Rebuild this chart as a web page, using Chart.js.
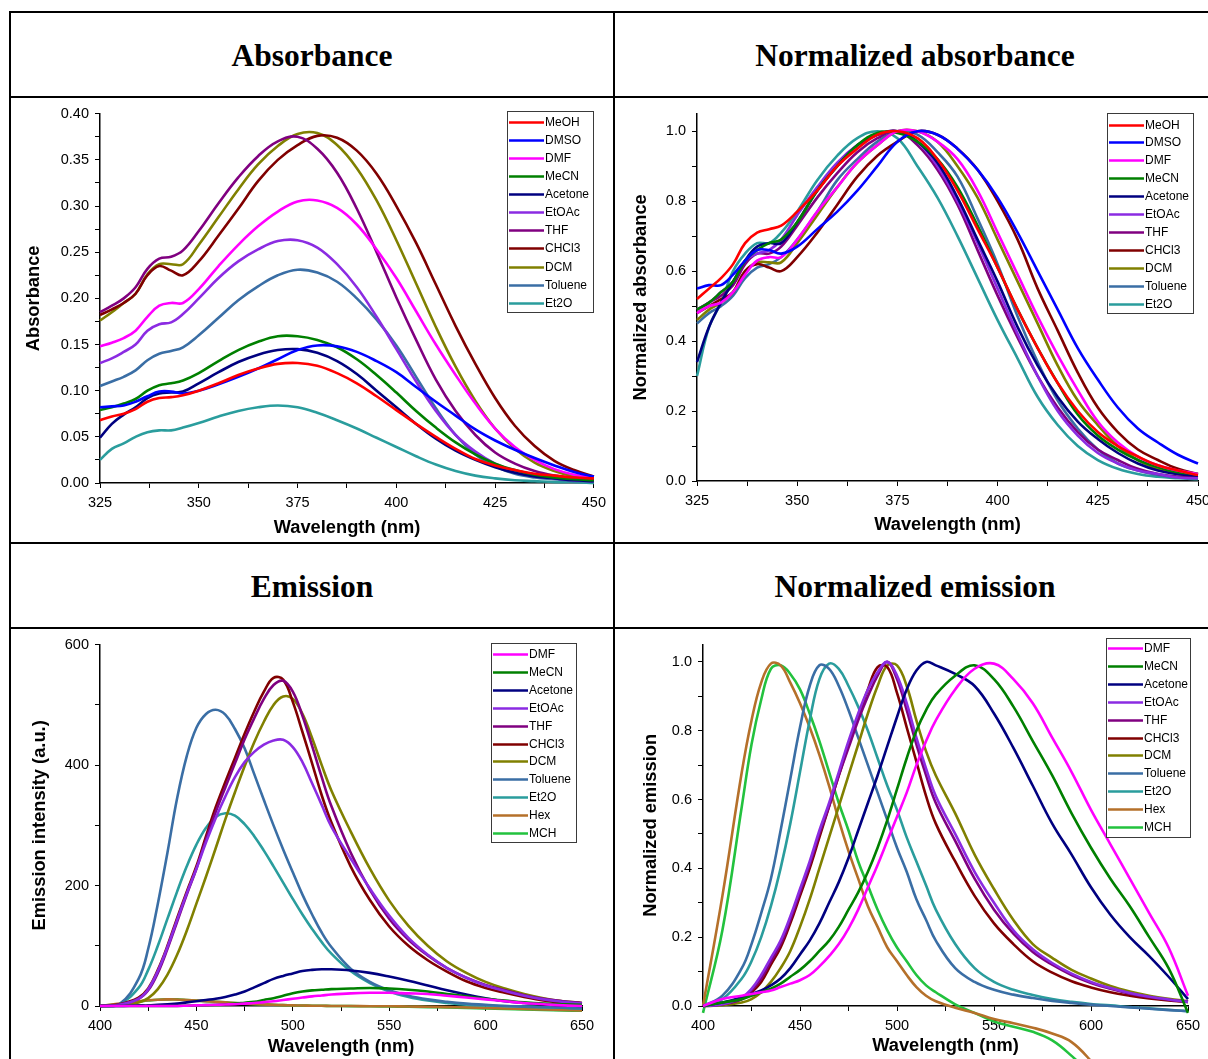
<!DOCTYPE html>
<html>
<head>
<meta charset="utf-8">
<script src="https://cdn.jsdelivr.net/npm/chart.js@4.4.0/dist/chart.umd.min.js"></script>
<style>
  body { margin: 0; width: 1208px; height: 1059px; overflow: hidden; background: #fff; position: relative; }
  .ln { position: absolute; background: #000; }
  .cell { position: absolute; display: flex; align-items: center; justify-content: center;
          font-family: "Liberation Serif", "Times New Roman", serif; font-weight: bold; font-size: 31.5px; color: #000; }
  canvas { position: absolute; display: block; }
</style>
</head>
<body>
<!-- cadre du tableau -->
<div class="ln" style="left:9px;top:11px;width:1199px;height:2px"></div>
<div class="ln" style="left:9px;top:96px;width:1199px;height:2px"></div>
<div class="ln" style="left:9px;top:542px;width:1199px;height:2px"></div>
<div class="ln" style="left:9px;top:627px;width:1199px;height:2px"></div>
<div class="ln" style="left:9px;top:11px;width:2px;height:1048px"></div>
<div class="ln" style="left:613px;top:11px;width:2px;height:1048px"></div>

<div class="cell" style="left:11px;top:14px;width:602px;height:83px">Absorbance</div>
<div class="cell" style="left:615px;top:14px;width:600px;height:83px">Normalized absorbance</div>
<div class="cell" style="left:11px;top:545px;width:602px;height:83px">Emission</div>
<div class="cell" style="left:615px;top:545px;width:600px;height:83px">Normalized emission</div>

<canvas id="cAbs" width="600" height="443" style="left:12px;top:99px"></canvas>
<canvas id="cNAbs" width="640" height="443" style="left:616px;top:99px"></canvas>
<canvas id="cEm" width="600" height="429" style="left:12px;top:630px"></canvas>
<canvas id="cNEm" width="592" height="429" style="left:616px;top:630px"></canvas>

<script>
// Données
const absSolvents = ['MeOH', 'DMSO', 'DMF', 'MeCN', 'Acetone', 'EtOAc', 'THF', 'CHCl3', 'DCM', 'Toluene', 'Et2O'];
const emSolvents = ['DMF', 'MeCN', 'Acetone', 'EtOAc', 'THF', 'CHCl3', 'DCM', 'Toluene', 'Et2O', 'Hex', 'MCH'];

const absWl = [325, 328, 331, 334, 337, 340, 343, 346, 350, 355, 360, 365, 370, 375, 380, 385, 390, 395, 400, 405, 410, 415, 420, 425, 430, 435, 440, 445, 450];
const emWl = [400, 410, 420, 425, 430, 435, 440, 445, 450, 455, 460, 465, 470, 475, 480, 485, 490, 495, 500, 505, 510, 515, 520, 530, 540, 550, 560, 570, 580, 590, 600, 610, 620, 630, 640, 650];

// Absorbance
const absMeOH = [.068, .072, .075, .080, .088, .092, .093, .095, .100, .108, .117, .124, .129, .130, .127, .119, .108, .094, .079, .064, .050, .037, .026, .019, .014, .010, .008, .006, .005];
const absDMSO = [.082, .083, .084, .088, .094, .099, .099, .097, .100, .107, .115, .124, .134, .144, .149, .148, .142, .132, .120, .104, .088, .073, .058, .046, .036, .027, .019, .012, .007];
const absDMF = [.148, .152, .157, .165, .180, .192, .195, .195, .210, .235, .258, .278, .294, .305, .306, .298, .280, .253, .222, .186, .150, .117, .086, .059, .039, .025, .015, .009, .006];
const absMeCN = [.079, .082, .086, .091, .100, .106, .108, .111, .119, .132, .144, .153, .159, .159, .155, .147, .134, .117, .098, .078, .060, .044, .031, .021, .014, .009, .006, .004, .003];
const absAcetone = [.049, .064, .074, .082, .092, .097, .098, .099, .108, .120, .131, .139, .144, .145, .141, .132, .118, .100, .082, .064, .048, .035, .025, .017, .011, .007, .005, .003, .002];
const absEtOAc = [.130, .135, .142, .150, .165, .172, .174, .183, .200, .222, .240, .253, .262, .263, .255, .237, .212, .180, .145, .110, .078, .052, .034, .021, .013, .008, .005, .003, .002];
const absTHF = [.185, .192, .200, .212, .232, .243, .245, .252, .273, .303, .331, .354, .370, .375, .362, .336, .297, .250, .201, .155, .112, .078, .052, .033, .021, .013, .008, .005, .004];
const absCHCl3 = [.182, .188, .195, .205, .225, .235, .230, .225, .240, .268, .297, .327, .350, .366, .376, .374, .360, .335, .300, .260, .215, .170, .129, .092, .062, .040, .024, .014, .007];
const absDCM = [.176, .185, .195, .205, .226, .237, .237, .237, .258, .288, .318, .345, .365, .378, .379, .366, .341, .306, .263, .216, .169, .126, .089, .059, .037, .022, .013, .007, .004];
const absToluene = [.105, .110, .115, .122, .133, .140, .143, .147, .160, .179, .198, .213, .225, .231, .228, .218, .200, .177, .149, .115, .081, .052, .031, .018, .010, .006, .004, .002, .002];
const absEt2O = [.025, .037, .043, .050, .055, .057, .057, .060, .065, .072, .078, .082, .084, .082, .076, .068, .059, .049, .039, .029, .020, .013, .008, .005, .003, .002, .001, .001, .000];

// Absorbance normalisée
const nabsMeOH = [.52, .55, .58, .62, .68, .71, .72, .73, .77, .83, .90, .95, .99, 1.0, .98, .92, .83, .72, .61, .49, .38, .28, .20, .14, .10, .07, .045, .03, .017];
const nabsDMSO = [.55, .56, .56, .59, .63, .66, .66, .65, .67, .72, .77, .83, .90, .97, 1.0, .99, .95, .89, .81, .71, .60, .49, .38, .29, .21, .15, .11, .075, .05];
const nabsDMF = [.48, .50, .51, .54, .59, .63, .64, .64, .69, .77, .84, .91, .96, 1.0, 1.0, .97, .92, .83, .71, .59, .47, .36, .26, .17, .11, .07, .045, .03, .02];
const nabsMeCN = [.49, .51, .54, .57, .63, .66, .68, .69, .74, .83, .90, .96, .995, .995, .97, .92, .84, .73, .61, .49, .38, .28, .19, .13, .09, .06, .04, .025, .02];
const nabsAcetone = [.34, .44, .51, .57, .63, .67, .68, .68, .74, .83, .90, .96, .99, 1.0, .97, .91, .81, .69, .57, .44, .33, .24, .17, .12, .08, .05, .03, .02, .015];
const nabsEtOAc = [.49, .51, .54, .57, .63, .65, .66, .69, .76, .84, .91, .96, .99, 1.0, .97, .90, .80, .68, .55, .42, .30, .20, .13, .08, .05, .03, .02, .01, .008];
const nabsTHF = [.49, .51, .53, .56, .62, .65, .65, .67, .73, .81, .88, .94, .98, 1.0, .96, .89, .79, .66, .53, .41, .30, .21, .14, .09, .06, .035, .02, .013, .01];
const nabsCHCl3 = [.48, .50, .52, .54, .60, .62, .61, .60, .64, .71, .79, .87, .93, .97, 1.0, .99, .95, .89, .80, .69, .55, .43, .31, .21, .14, .09, .06, .035, .02];
const nabsDCM = [.46, .49, .51, .54, .60, .625, .625, .625, .68, .76, .84, .91, .96, 1.0, 1.0, .97, .90, .81, .69, .57, .45, .33, .23, .16, .10, .06, .035, .02, .01];
const nabsToluene = [.45, .48, .50, .53, .58, .61, .62, .64, .69, .77, .86, .92, .97, 1.0, .99, .94, .87, .75, .62, .47, .34, .23, .15, .09, .05, .03, .017, .01, .008];
const nabsEt2O = [.30, .44, .51, .60, .65, .68, .68, .71, .77, .86, .93, .98, 1.0, .98, .90, .81, .70, .58, .46, .35, .24, .16, .10, .06, .035, .02, .012, .008, .005];

// Émission (u.a.)
const emDMF = [0, 0, 0, 0, 0, 0, 0, .5, 1, 1.5, 2, 2.5, 3, 4, 5, 6.5, 8, 10, 12, 14, 16, 17.5, 19, 21, 22, 22, 21, 20, 17, 14, 11, 8, 5, 3, 1, 0];
const emMeCN = [0, 0, 0, 0, 0, 0, 0, .5, 1, 1.5, 2, 3, 4, 5.5, 7, 10, 13, 17, 21, 24, 26, 27, 28, 29, 30, 29, 27, 24, 20, 16, 12, 9, 6, 4, 3, 2];
const emAcetone = [0, 0, 1, 1, 2, 3, 4, 6, 8, 10, 12, 15, 19, 24, 31, 38, 45, 50, 54, 58, 60, 61, 61, 59, 55, 49, 42, 34, 26, 19, 13, 8, 5, 3, 1, 0];
const emEtOAc = [0, 2, 12, 28, 58, 98, 143, 187, 228, 272, 312, 348, 380, 405, 422, 434, 441, 442, 430, 405, 370, 334, 298, 245, 195, 150, 113, 85, 63, 47, 34, 25, 17, 11, 7, 4];
const emTHF = [0, 2, 12, 26, 55, 95, 140, 185, 228, 277, 322, 363, 403, 443, 478, 510, 533, 540, 522, 482, 432, 380, 332, 255, 193, 145, 110, 84, 63, 47, 35, 26, 18, 12, 8, 5];
const emCHCl3 = [0, 3, 14, 29, 60, 100, 146, 190, 232, 282, 330, 372, 412, 452, 489, 522, 545, 542, 505, 455, 403, 350, 305, 232, 176, 132, 100, 76, 57, 41, 30, 22, 15, 9, 5, 2];
const emDCM = [0, 1, 6, 13, 28, 52, 85, 125, 170, 215, 262, 310, 355, 398, 438, 472, 500, 514, 510, 485, 445, 400, 358, 290, 228, 175, 133, 100, 74, 55, 40, 29, 20, 13, 8, 5];
const emToluene = [0, 3, 45, 95, 170, 255, 345, 415, 462, 485, 492, 484, 460, 428, 385, 342, 300, 260, 222, 185, 152, 122, 98, 62, 40, 26, 17, 11, 7, 4, 2, 0, -1, -2, -3, -4];
const emEt2O = [0, 3, 30, 60, 100, 145, 190, 232, 268, 296, 314, 320, 316, 302, 282, 258, 232, 205, 178, 152, 128, 106, 87, 58, 38, 24, 15, 9, 5, 2, 1, 0, -1, -2, -3, -4];
const emHex = [0, 4, 8, 9.5, 10.5, 11, 10.8, 10, 9, 8, 7, 6, 5, 4, 3.2, 2.5, 2, 1.5, 1.1, .8, .5, .3, .1, -.1, -.3, -.5, -.8, -1.2, -1.8, -2.5, -3.3, -4.2, -5, -5.8, -6.5, -7.2];
const emMCH = [0, 3, 7, 9, 10.5, 11, 11, 10, 9, 8, 7, 6, 5, 4, 3, 2.5, 2, 1.5, 1, .7, .5, .3, .1, -.2, -.5, -.8, -1.2, -1.8, -2.5, -3.3, -4, -4.8, -5.6, -6.4, -7.2, -8];

// Émission normalisée
const nemDMF = [0, .02, .03, .035, .04, .045, .055, .065, .075, .09, .115, .145, .18, .225, .28, .345, .41, .48, .55, .62, .70, .77, .83, .92, .98, .995, .95, .88, .78, .68, .57, .47, .37, .27, .17, .03];
const nemMeCN = [0, .01, .02, .03, .04, .05, .065, .085, .105, .13, .16, .19, .23, .28, .33, .39, .46, .54, .63, .72, .80, .86, .905, .96, .99, .95, .87, .77, .67, .56, .46, .37, .29, .20, .11, -.02];
const nemAcetone = [0, .01, .025, .035, .045, .06, .08, .11, .15, .19, .24, .30, .36, .43, .51, .59, .67, .755, .84, .92, .975, 1.0, .99, .965, .93, .85, .75, .64, .53, .44, .345, .265, .20, .145, .085, .02];
const nemEtOAc = [0, .005, .025, .05, .09, .14, .19, .26, .34, .42, .51, .59, .68, .77, .85, .92, .97, 1.0, .96, .88, .78, .69, .61, .50, .39, .30, .22, .165, .125, .094, .07, .052, .038, .027, .019, .012];
const nemTHF = [0, .005, .02, .045, .08, .13, .18, .25, .33, .41, .50, .58, .67, .75, .83, .90, .96, 1.0, .95, .86, .76, .67, .59, .48, .37, .28, .21, .157, .12, .09, .067, .05, .036, .026, .018, .012];
const nemCHCl3 = [0, .005, .02, .04, .07, .12, .17, .24, .32, .40, .49, .58, .67, .76, .84, .92, .985, .985, .91, .81, .71, .61, .53, .42, .32, .24, .18, .13, .097, .072, .054, .04, .03, .022, .016, .012];
const nemDCM = [0, .002, .01, .02, .04, .07, .11, .16, .23, .31, .40, .49, .58, .67, .76, .85, .93, .99, .99, .93, .83, .74, .67, .56, .44, .34, .25, .18, .14, .105, .08, .058, .042, .03, .021, .014];
const nemToluene = [0, .03, .11, .18, .27, .37, .51, .66, .81, .93, .99, .98, .93, .86, .78, .70, .62, .54, .46, .39, .31, .25, .19, .11, .07, .047, .033, .023, .015, .009, .004, 0, -.004, -.008, -.012, -.015];
const nemEt2O = [0, .02, .08, .13, .20, .29, .40, .53, .68, .83, .95, .995, .98, .93, .87, .80, .72, .64, .57, .49, .42, .35, .28, .18, .11, .07, .047, .032, .02, .012, .006, .002, -.003, -.007, -.011, -.015];
const nemHex = [0, .32, .68, .83, .94, .995, .99, .94, .88, .81, .73, .64, .54, .45, .37, .29, .23, .17, .13, .09, .055, .03, .014, -.005, -.02, -.038, -.05, -.063, -.08, -.105, -.16, -.23, -.31, -.40, -.49, -.58];
const nemMCH = [-.02, .22, .58, .76, .89, .98, .99, .965, .92, .85, .77, .68, .59, .51, .42, .35, .28, .22, .17, .13, .09, .06, .04, .005, -.02, -.045, -.06, -.075, -.10, -.145, -.20, -.27, -.35, -.44, -.53, -.62];

const colors = {
    MeOH: '#ff0000', DMSO: '#0000ff', DMF: '#ff00ff', MeCN: '#008000', Acetone: '#000080',
    EtOAc: '#8b2be2', THF: '#800080', CHCl3: '#800000', DCM: '#808000', Toluene: '#3a6ea5',
    Et2O: '#2a9d9d', Hex: '#b5702a', MCH: '#22c23e'
};

const FONT = '"Liberation Sans", Arial, sans-serif';
Chart.defaults.font.family = FONT;
Chart.defaults.color = '#000';

// Légende encadrée dessinée dans la zone du graphique
const boxLegend = {
    id: 'boxLegend',
    afterDatasetsDraw(chart, args, opts) {
        const ctx = chart.ctx;
        ctx.save();
        ctx.fillStyle = '#fff';
        ctx.fillRect(opts.x, opts.y, opts.w, opts.h);
        ctx.strokeStyle = '#3a3a3a';
        ctx.lineWidth = 1;
        ctx.strokeRect(opts.x + 0.5, opts.y + 0.5, opts.w, opts.h);
        ctx.font = '12px ' + FONT;
        ctx.textBaseline = 'middle';
        chart.data.datasets.forEach((ds, i) => {
            const y = Math.round(opts.y + opts.first + i * opts.row) + 0.5;
            ctx.strokeStyle = ds.borderColor;
            ctx.lineWidth = 2.5;
            ctx.beginPath();
            ctx.moveTo(opts.x + 2, y);
            ctx.lineTo(opts.x + 37, y);
            ctx.stroke();
            ctx.fillStyle = '#000';
            ctx.fillText(ds.label, opts.x + 38, y + 0.5);
        });
        ctx.restore();
    }
};

function buildDatasets(names, xs, series) {
    return names.map((name, i) => ({
        label: name,
        data: xs.map((x, j) => ({ x: x, y: series[i][j] })),
        borderColor: colors[name],
        borderWidth: 2.6,
        pointRadius: 0,
        tension: 0.4,
        fill: false,
        clip: false
    }));
}

function makeChart(id, p) {
    const stepOk = (v, s) => Math.abs(v / s - Math.round(v / s)) < 1e-6;
    new Chart(document.getElementById(id), {
        type: 'line',
        data: { datasets: p.datasets },
        options: {
            responsive: false,
            animation: false,
            layout: { padding: p.padding },
            elements: { line: { capBezierPoints: false } },
            plugins: {
                legend: { display: false },
                tooltip: { enabled: false },
                boxLegend: p.legend
            },
            scales: {
                x: {
                    type: 'linear',
                    min: p.xMin, max: p.xMax,
                    afterFit: s => { s.height = p.xH; },
                    border: { display: true, color: '#000', width: 1.5 },
                    grid: { drawOnChartArea: false, drawTicks: true, tickLength: 5, color: '#000', tickWidth: 1 },
                    ticks: {
                        stepSize: p.xMinor, autoSkip: false, maxRotation: 0, padding: 6,
                        font: { size: 14.5 },
                        callback: v => stepOk(v, p.xMajor) ? String(Math.round(v)) : ''
                    },
                    title: { display: true, text: 'Wavelength (nm)', font: { size: 18.3, weight: 'bold' }, padding: p.xTitlePad }
                },
                y: {
                    type: 'linear',
                    min: p.yMin, max: p.yMax,
                    afterFit: s => { s.width = p.yW; },
                    border: { display: true, color: '#000', width: 1.5 },
                    grid: { drawOnChartArea: false, drawTicks: true, tickLength: 5, color: '#000', tickWidth: 1 },
                    ticks: {
                        stepSize: p.yMinor, autoSkip: false, includeBounds: false, padding: 6,
                        font: { size: 14.5 },
                        callback: v => stepOk(v, p.yMajor) ? v.toFixed(p.yDec) : ''
                    },
                    title: { display: true, text: p.yTitle, font: { size: 18.3, weight: 'bold' }, padding: { top: 4, bottom: 0 } }
                }
            }
        },
        plugins: [boxLegend]
    });
}

makeChart('cAbs', {
    datasets: buildDatasets(absSolvents, absWl,
        [absMeOH, absDMSO, absDMF, absMeCN, absAcetone, absEtOAc, absTHF, absCHCl3, absDCM, absToluene, absEt2O]),
    padding: { left: 7, right: 18, top: 11, bottom: 0 },
    xMin: 325, xMax: 450, xMinor: 12.5, xMajor: 25, xH: 59, xTitlePad: { top: 0, bottom: 3 },
    yMin: 0, yMax: 0.4, yMinor: 0.025, yMajor: 0.05, yDec: 2, yW: 81,
    yTitle: 'Absorbance',
    legend: { x: 495, y: 12, w: 86, h: 201, first: 10.7, row: 18.1 }
});

makeChart('cNAbs', {
    datasets: buildDatasets(absSolvents, absWl,
        [nabsMeOH, nabsDMSO, nabsDMF, nabsMeCN, nabsAcetone, nabsEtOAc, nabsTHF, nabsCHCl3, nabsDCM, nabsToluene, nabsEt2O]),
    padding: { left: 10, right: 58, top: 13.5, bottom: 3 },
    xMin: 325, xMax: 450, xMinor: 12.5, xMajor: 25, xH: 58, xTitlePad: { top: 0, bottom: 3 },
    yMin: 0, yMax: 1.05, yMinor: 0.1, yMajor: 0.2, yDec: 1, yW: 71,
    yTitle: 'Normalized absorbance',
    legend: { x: 491, y: 14, w: 86, h: 200, first: 11.5, row: 17.9 }
});

makeChart('cEm', {
    datasets: buildDatasets(emSolvents, emWl,
        [emDMF, emMeCN, emAcetone, emEtOAc, emTHF, emCHCl3, emDCM, emToluene, emEt2O, emHex, emMCH]),
    padding: { left: 13, right: 30, top: 11, bottom: 0 },
    xMin: 400, xMax: 650, xMinor: 25, xMajor: 50, xH: 53, xTitlePad: { top: 0, bottom: 1 },
    yMin: 0, yMax: 600, yMinor: 100, yMajor: 200, yDec: 0, yW: 75,
    yTitle: 'Emission intensity (a.u.)',
    legend: { x: 479, y: 13, w: 85, h: 199, first: 11, row: 17.9 }
});

makeChart('cNEm', {
    datasets: buildDatasets(emSolvents, emWl,
        [nemDMF, nemMeCN, nemAcetone, nemEtOAc, nemTHF, nemCHCl3, nemDCM, nemToluene, nemEt2O, nemHex, nemMCH]),
    padding: { left: 20, right: 20, top: 11.6, bottom: 1 },
    xMin: 400, xMax: 650, xMinor: 25, xMajor: 50, xH: 52, xTitlePad: { top: 0, bottom: 1 },
    yMin: 0, yMax: 1.05, yMinor: 0.1, yMajor: 0.2, yDec: 1, yW: 67,
    yTitle: 'Normalized emission',
    legend: { x: 490, y: 8, w: 84, h: 199, first: 10, row: 17.9 }
});
</script>
</body>
</html>
